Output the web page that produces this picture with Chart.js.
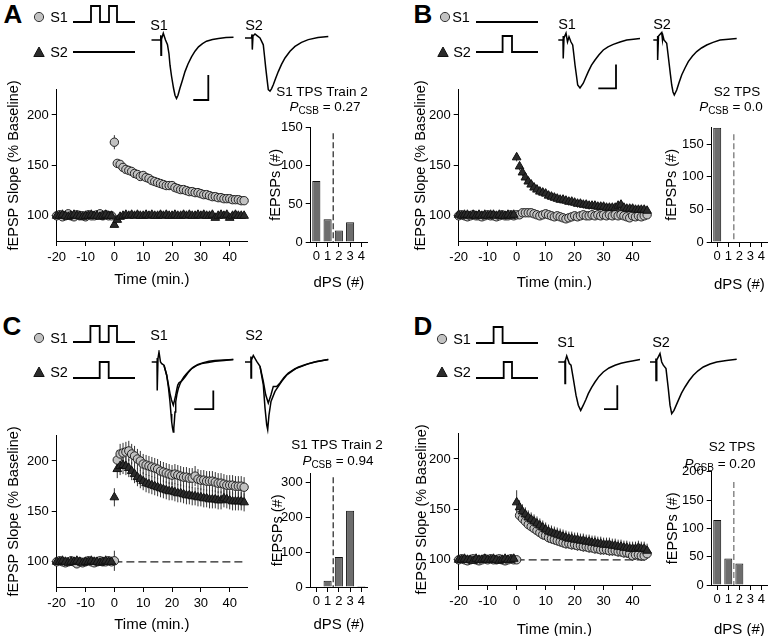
<!DOCTYPE html>
<html><head><meta charset="utf-8">
<script src="https://cdn.jsdelivr.net/npm/chart.js@4.4.1/dist/chart.umd.min.js"></script>
<style>
html,body{margin:0;padding:0;background:#fff;}
#fig{position:relative;width:775px;height:636px;overflow:hidden;background:#fff;font-family:"Liberation Sans",Arial,Helvetica,sans-serif;color:#000;}
#fig canvas{position:absolute;}
.t{position:absolute;white-space:nowrap;transform:translate(-50%,-50%);line-height:1;}
.let{font-weight:bold;font-size:26px;}
.lab{font-size:14.5px;}
.ttl{font-size:13.5px;}
.ttl sub{font-size:10px;vertical-align:-3px;}
svg.sym{position:absolute;overflow:visible;}
</style></head><body><div id="fig"></div>
<script>
// ---------------- DATA ----------------
const time = [-20,-19,-18,-17,-16,-15,-14,-13,-12,-11,-10,-9,-8,-7,-6,-5,-4,-3,-2,-1,
  0,1,2,3,4,5,6,7,8,9,10,11,12,13,14,15,16,17,18,19,20,21,22,23,24,25,26,27,28,29,30,
  31,32,33,34,35,36,37,38,39,40,41,42,43,44,45];
const xTicksMain = [-20,-10,0,10,20,30,40];
const yTicksMain = [100,150,200];

// Panel A
const A_S1 = [100,101,99,100,102,100,99,101,100,100,99,101,100,100,101,102,100,101,100,100,
  173,152,151,148,146,145,144,142,141,139,140,138,137,135,134,133,132,131,130,130,
  130,128,127,126,126,125,124,124,123,123,122,121,121,120,119,119,118,118,117,117,
  117,116,116,116,115,115];
const A_S2 = [100,100,101,100,99,100,101,100,100,99,100,100,101,100,100,99,100,101,100,100,
  91,96,99,100,101,100,101,100,101,100,100,101,100,101,100,100,101,100,101,100,
  100,101,100,100,101,100,101,100,100,101,100,101,100,100,101,98,100,101,100,101,
  98,100,101,100,100,100];
const errA1 = [2,2,2,2,2,2,2,2,2,2,2,2,2,2,2,2,2,2,2,2,
  7,3,3,3,3,3,3,3,3,3,3,3,3,3,3,3,3,3,3,3,3,3,3,3,3,3,3,3,3,3,3,3,3,3,3,3,3,3,3,3,3,3,3,3,3,3];
const errA2 = [2,2,2,2,2,2,2,2,2,2,2,2,2,2,2,2,2,2,2,2,
  2,2,2,2,2,2,2,2,2,2,2,2,2,2,2,2,2,2,2,2,2,2,2,2,2,2,2,2,2,2,2,2,2,2,2,2,2,2,2,2,2,2,2,2,2,2];
// Panel B
const B_S1 = [100,101,100,99,100,101,100,100,99,100,101,100,100,99,100,101,100,100,101,100,
  101,101,103,103,103,103,102,101,100,101,102,101,100,99,100,99,98,97,98,99,
  100,99,100,101,100,100,101,100,101,100,101,100,101,100,101,100,101,100,99,98,
  100,99,100,99,100,101];
const B_S2 = [101,100,101,101,100,101,100,101,100,101,100,101,101,100,101,100,100,101,100,101,
  158,149,143,138,134,131,128,126,124,123,122,120,119,118,117,116,116,115,114,114,
  113,112,112,111,111,110,110,110,109,109,109,108,108,108,108,110,111,108,107,107,
  107,106,106,106,106,105];
const errB1 = [2,2,2,2,2,2,2,2,2,2,2,2,2,2,2,2,2,2,2,2,
  3,3,3,3,3,3,3,3,3,3,3,3,3,3,3,3,3,3,3,3,3,3,3,3,3,3,3,3,3,3,3,3,3,3,3,3,3,3,3,3,3,3,3,3,3,3];
const errB2 = [2,2,2,2,2,2,2,2,2,2,2,2,2,2,2,2,2,2,2,2,
  4,4,4,4,4,4,4,4,4,4,4,4,4,4,4,4,4,4,4,4,4,4,4,4,4,4,4,4,4,4,4,4,4,4,4,4,4,4,4,4,4,4,4,4,4,4];
// Panel C
const C_S1 = [100,101,100,99,100,101,100,98,100,99,100,101,100,99,100,101,100,100,101,100,
  101,201,207,208,209,210,207,205,202,200,197,196,195,194,193,192,190,189,188,187,
  186,187,186,185,184,184,183,183,185,182,181,181,180,180,180,179,178,178,177,176,
  176,176,175,175,175,174];
const C_S2 = [100,100,101,100,99,100,100,101,100,99,100,100,101,100,100,99,100,101,100,100,
  164,192,195,196,195,193,190,187,184,182,180,178,177,176,175,174,173,172,171,170,
  170,169,168,168,167,166,166,165,165,164,164,163,163,162,162,162,161,161,163,162,
  161,160,160,160,160,159];
const errC1 = [2,2,2,2,2,2,2,2,2,2,2,2,2,2,2,2,2,2,2,2,
  10,10,10,10,10,10,10,10,10,10,10,10,10,10,10,10,10,10,10,10,10,10,10,10,10,10,10,10,10,10,10,10,10,10,10,10,10,10,10,10,10,10,10,10,10,10];
const errC2 = [2,2,2,2,2,2,2,2,2,2,2,2,2,2,2,2,2,2,2,2,
  9,9,9,9,9,9,9,9,9,9,9,9,9,9,9,9,9,9,9,9,9,9,9,9,9,9,9,9,9,9,9,9,9,9,9,9,9,9,9,9,9,9,9,9,9,9];
// Panel D
const D_S1 = [100,101,100,99,100,101,100,99,100,101,100,101,100,100,101,100,99,100,101,100,
  100,144,141,138,135,133,131,129,127,125,124,122,121,120,119,118,117,116,116,115,
  115,114,114,113,113,112,112,111,111,110,110,110,109,109,109,108,108,107,107,106,
  104,105,105,104,104,106];
const D_S2 = [100,100,101,100,100,99,101,100,100,101,100,100,101,100,99,100,101,100,100,101,
  157,152,148,145,142,140,138,136,134,132,130,128,127,126,125,124,123,122,121,121,
  120,120,119,119,118,118,117,117,116,116,115,115,115,114,114,113,113,112,112,111,
  111,111,112,111,111,109];
const errD1 = [2,2,2,2,2,2,2,2,2,2,2,2,2,2,2,2,2,2,2,2,
  2,5,5,5,5,5,5,5,5,5,5,5,5,5,5,5,5,5,5,5,5,5,5,5,5,5,5,5,5,5,5,5,5,5,5,5,5,5,5,5,5,5,5,5,5,5];
const errD2 = [2,2,2,2,2,2,2,2,2,2,2,2,2,2,2,2,2,2,2,2,
  12,7,7,7,7,7,7,7,7,7,7,7,7,7,7,7,7,7,7,7,7,7,7,7,7,7,7,7,7,7,7,7,7,7,7,7,7,7,7,7,7,7,7,7,7,7];
const refLine = [[0,100],[45,100]];

// Histograms (dPS counts)
const dpsLabels = ['0','1','2','3','4'];
const histA = [80,30,15,26,0];
const histB = [175,0,0,0,0];
const histC = [0,18,86,219,3];
const histD = [115,47,38,0,0];
const histTicksA = [0,50,100,150], histTicksB = [0,50,100,150];
const histTicksC = [0,100,200,300], histTicksD = [0,50,100,150,200];
const dpsThreshold = 1.5;

// Traces [ms, mV]
const traceA_S1 = [[0.3,0],[2.1,0],[2.15,0.12],[2.2,-0.38],[2.3,0.02],[2.66,0.17],[3.1,0.0],[3.5,-0.12],[3.8,-0.35],[4.0,-0.63],[4.3,-0.9],[4.7,-1.2],[5.0,-1.38],[5.3,-1.46],[5.6,-1.38],[6.0,-1.2],[6.5,-1.0],[7.0,-0.79],[7.6,-0.6],[8.3,-0.42],[9.0,-0.28],[9.7,-0.17],[10.5,-0.09],[11.3,-0.03],[12.5,0.01],[13.7,0.04],[15.2,0.06],[16.7,0.07]];
const traceA_S2 = [[0.2,0],[1.5,0],[1.6,0.09],[1.66,-0.29],[1.8,0.05],[2.2,0.1],[2.6,0.06],[3.2,0],[3.86,-0.17],[4.1,-0.45],[4.34,-0.74],[4.6,-1.02],[4.86,-1.29],[5.2,-1.33],[5.5,-1.27],[5.86,-1.17],[6.3,-1.02],[6.86,-0.84],[7.5,-0.66],[8.2,-0.5],[9.2,-0.33],[10.2,-0.21],[11.5,-0.11],[12.86,-0.04],[14.8,0.01],[16.86,0.04]];
const traceB_S1 = [[0.26,0],[1.2,0],[1.23,0.1],[1.26,-0.46],[1.4,0.05],[1.8,0.17],[2.1,-0.05],[2.4,0.08],[2.8,-0.05],[3.14,-0.125],[3.4,-0.4],[3.6,-0.625],[3.9,-0.9],[4.14,-1.125],[4.6,-1.2],[5.26,-1.08],[5.7,-0.95],[6.26,-0.79],[6.9,-0.63],[7.6,-0.5],[8.4,-0.37],[9.26,-0.25],[10.2,-0.17],[11.26,-0.11],[12.6,-0.05],[13.94,0],[15.3,0.02],[16.6,0.04]];
const traceB_S2 = [[0.26,0],[1.1,0],[1.12,0.1],[1.14,-0.5],[1.3,0.1],[1.94,0.19],[2.1,0],[2.2,0.1],[2.4,0],[2.94,-0.08],[3.2,-0.35],[3.46,-0.625],[3.7,-0.88],[3.94,-1.125],[4.2,-1.3],[4.46,-1.375],[4.94,-1.25],[5.4,-1.07],[5.94,-0.875],[6.6,-0.7],[7.26,-0.54],[8.1,-0.4],[8.94,-0.29],[9.9,-0.2],[10.94,-0.125],[12.2,-0.06],[13.6,0],[15.3,0.02],[16.94,0.04]];
const traceC_S1_pre = [[0.34,0],[1.4,0],[1.43,0.1],[1.46,-0.71],[1.6,0.09],[1.8,0.25],[2.1,0],[2.34,-0.04],[2.8,-0.08],[3.34,-0.33],[3.7,-0.58],[4.0,-0.79],[4.3,-0.95],[4.66,-1.08],[4.9,-0.96],[5.14,-0.83],[5.34,-0.7],[5.54,-0.58],[5.8,-0.52],[6.0,-0.5],[6.4,-0.47],[7.0,-0.375],[7.6,-0.27],[8.34,-0.165],[9.3,-0.09],[10.34,-0.04],[11.6,-0.01],[13,0.02],[14.8,0.04],[16.66,0.06]];
const traceC_S1_post = [[2.8,-0.08],[3.34,-0.33],[3.7,-0.65],[4.0,-1.0],[4.2,-1.3],[4.34,-1.5],[4.5,-1.65],[4.66,-1.75],[4.76,-1.65],[4.86,-1.5],[5.0,-1.25],[5.14,-1.0],[5.4,-0.8],[5.66,-0.665],[6.0,-0.55],[6.34,-0.46],[6.8,-0.37],[7.34,-0.29],[8.0,-0.2],[8.66,-0.125],[9.6,-0.06],[10.66,-0.015],[11.8,0.02],[13,0.035],[14.8,0.05],[16.66,0.06]];
const traceC_S2_pre = [[0.2,0],[1.36,0],[1.38,0.14],[1.4,-0.4],[1.5,0.05],[1.86,0.165],[2.54,0.015],[3.2,-0.11],[3.86,-0.485],[4.34,-0.82],[4.86,-1.025],[5.4,-0.82],[5.86,-0.61],[6.54,-0.61],[7.2,-0.525],[8.0,-0.39],[8.86,-0.275],[10.2,-0.17],[11.54,-0.11],[12.9,-0.04],[14.2,0],[16.86,0.06]];
const traceC_S2_post = [[3.2,-0.11],[3.86,-0.57],[4.2,-1.15],[4.54,-1.57],[4.74,-1.69],[5.0,-1.32],[5.4,-0.985],[6.2,-0.735],[7.54,-0.485],[8.5,-0.33],[9.54,-0.235],[10.8,-0.13],[12.2,-0.07],[14.5,0.01],[16.86,0.06]];
const traceD_S1 = [[0.26,0],[1.56,0],[1.58,0.04],[1.6,-0.54],[1.7,0.05],[1.94,0.15],[2.46,-0.04],[2.8,-0.08],[3.26,-0.415],[3.8,-0.83],[4.26,-1.08],[4.74,-1.21],[5.26,-1.08],[5.8,-0.93],[6.26,-0.79],[6.9,-0.64],[7.6,-0.5],[8.4,-0.36],[9.26,-0.25],[10.4,-0.15],[11.6,-0.08],[12.8,-0.03],[13.94,0],[15.3,0.03],[16.6,0.06]];
const traceD_S2 = [[0.2,0],[1.36,0],[1.38,0.09],[1.4,-0.46],[1.55,0.05],[2.2,0.21],[2.54,0],[2.86,-0.08],[3.4,-0.165],[3.86,-0.665],[4.2,-1.08],[4.54,-1.29],[5.0,-1.21],[5.86,-0.96],[6.5,-0.78],[7.2,-0.625],[8.0,-0.47],[8.86,-0.33],[9.8,-0.22],[10.86,-0.125],[12.2,-0.05],[13.54,0],[15.5,0.04],[17.54,0.07]];
const scaleBarA = [[8.66,-1.5],[11.66,-1.5],[11.66,-0.875]];
const scaleBarB = [[8.26,-1.21],[11.8,-1.21],[11.8,-0.61]];
const scaleBarC = [[8.86,-1.18],[12.66,-1.18],[12.66,-0.71]];
const scaleBarD = [[9.4,-1.18],[12.06,-1.18],[12.06,-0.58]];

// Stimulation protocols: pulse [on, off] times, line length
const protoLen = 62;
const protoA_S1 = [[18,27],[36,44]], protoA_S2 = [];
const protoB_S1 = [], protoB_S2 = [[26.6,36]];
const protoC_S1 = [[17.4,26.7],[35.7,44]], protoC_S2 = [[26.7,35.7]];
const protoD_S1 = [[17.6,26.6]], protoD_S2 = [[27.7,36]];

// ---------------- RENDER ----------------
Chart.defaults.font.family = '"Liberation Sans", Arial, Helvetica, sans-serif';
Chart.defaults.font.size = 13;
Chart.defaults.color = '#000';
Chart.defaults.animation = false;
Chart.defaults.events = [];
Chart.defaults.plugins.legend.display = false;
Chart.defaults.plugins.tooltip.enabled = false;

const fig = document.getElementById('fig');
function mkCanvas(l,t,w,h){
  const c=document.createElement('canvas');
  l=Math.round(l);t=Math.round(t);w=Math.round(w);h=Math.round(h);
  c.width=w;c.height=h;c.style.left=l+'px';c.style.top=t+'px';c.style.width=w+'px';c.style.height=h+'px';
  fig.appendChild(c);return c;
}
function txt(html,x,y,cls){const d=document.createElement('div');d.className='t '+(cls||'');d.innerHTML=html;d.style.left=x+'px';d.style.top=y+'px';fig.appendChild(d);return d;}
function pts(ys){return time.map((t,i)=>({x:t,y:ys[i]}));}
function xy(arr){return arr.map(([x,y])=>({x,y}));}

const errorBarPlugin = {id:'errbars',beforeDatasetsDraw(chart){
  const {ctx,scales:{x,y}}=chart;
  chart.data.datasets.forEach(ds=>{
    if(!ds.errors)return;
    ctx.save();ctx.strokeStyle='#333';ctx.lineWidth=1;
    ds.data.forEach((p,i)=>{const e=ds.errors[i];if(!e)return;const px=x.getPixelForValue(p.x);
      ctx.beginPath();ctx.moveTo(px,y.getPixelForValue(p.y-e));ctx.lineTo(px,y.getPixelForValue(p.y+e));ctx.stroke();});
    ctx.restore();
  });
}};
const threshPlugin = {id:'thresh',afterDatasetsDraw(chart,args,o){
  const {ctx,scales:{x,y}}=chart;const px=x.getPixelForValue(o.value);
  ctx.save();ctx.strokeStyle=o.color;ctx.lineWidth=1.3;ctx.setLineDash([6,3]);
  ctx.beginPath();ctx.moveTo(px,y.getPixelForValue(o.top));ctx.lineTo(px,y.getPixelForValue(0));ctx.stroke();ctx.restore();
}};

function axisBase(){return {border:{display:true,color:'#000',width:1},
  grid:{display:true,drawOnChartArea:false,drawTicks:true,tickLength:5,color:'#000',lineWidth:1,offset:false}};}

function mainChart(p){
  const a=p.area,padT=10,padR=6,yF=14.5;
  const left=p.yTitleX-(4+yF*1.2/2);
  const yW=a.l-left, top=a.t-padT;
  const c=mkCanvas(left,top,a.r-left+padR,a.b+p.xH-top);
  const ds=[
    {data:pts(p.s2),errors:p.e2,pointStyle:'triangle',pointRadius:5,backgroundColor:'#2b2b2b',borderColor:'#111',borderWidth:1,clip:false},
    {data:pts(p.s1),errors:p.e1,pointStyle:'circle',pointRadius:4.2,backgroundColor:'#c2c2c2',borderColor:'#222',borderWidth:1,clip:false}
  ];
  if(p.ref)ds.push({data:xy(p.ref),showLine:true,pointRadius:0,borderColor:'#222',borderWidth:1.2,borderDash:[8,4]});
  new Chart(c,{type:'scatter',data:{datasets:ds},plugins:[errorBarPlugin],
    options:{responsive:false,maintainAspectRatio:false,layout:{padding:{left:0,top:padT,right:padR,bottom:0}},
      scales:{
        x:{...axisBase(),type:'linear',min:-20,max:46,
          afterBuildTicks:s=>{s.ticks=xTicksMain.map(v=>({value:v}));},
          afterFit:s=>{s.height=p.xH;},
          ticks:{font:{size:13},padding:4,maxRotation:0,autoSkip:false},
          title:{display:true,text:'Time (min.)',font:{size:15},padding:{top:4,bottom:4}}},
        y:{...axisBase(),type:'linear',min:75,max:225,
          afterBuildTicks:s=>{s.ticks=yTicksMain.map(v=>({value:v}));},
          afterFit:s=>{s.width=yW;},
          ticks:{font:{size:13},padding:3},
          title:{display:true,text:'fEPSP Slope (% Baseline)',font:{size:yF},padding:{top:4,bottom:4}}}
      }}});
}

function histChart(p){
  const a=p.area,padT=10,padR=6,yF=14.5;
  const left=p.yTitleX-(4+yF*1.2/2);
  const yW=a.l-left, top=a.t-padT;
  const c=mkCanvas(left,top,a.r-left+padR,a.b+p.xH-top);
  new Chart(c,{type:'bar',data:{labels:dpsLabels,datasets:[{data:p.data,backgroundColor:'#6d6d6d',borderColor:'#111',borderWidth:1,barPercentage:0.72,categoryPercentage:1}]},
    plugins:[threshPlugin],
    options:{responsive:false,maintainAspectRatio:false,layout:{padding:{left:0,top:padT,right:padR,bottom:0}},
      plugins:{thresh:{value:dpsThreshold,top:p.dashTop,color:p.dashColor}},
      scales:{
        x:{...axisBase(),offset:true,afterFit:s=>{s.height=p.xH;},
          ticks:{font:{size:13},padding:2,maxRotation:0,autoSkip:false},
          title:{display:true,text:'dPS (#)',font:{size:15},padding:{top:4,bottom:4}}},
        y:{...axisBase(),type:'linear',min:0,max:p.max,
          afterBuildTicks:s=>{s.ticks=p.ticks.map(v=>({value:v}));},
          afterFit:s=>{s.width=yW;},
          ticks:{font:{size:13},padding:3},
          title:{display:true,text:'fEPSPs (#)',font:{size:yF},padding:{top:4,bottom:4}}}
      }}});
}

function traceChart(x0,base,lines,bar){
  const c=mkCanvas(x0,base-12,90,92);
  const ds=lines.map(l=>({data:xy(l),showLine:true,pointRadius:0,borderColor:'#000',borderWidth:1.5,tension:0,clip:false}));
  if(bar)ds.push({data:xy(bar),showLine:true,pointRadius:0,borderColor:'#000',borderWidth:1.8,tension:0,clip:false});
  new Chart(c,{type:'scatter',data:{datasets:ds},options:{responsive:false,maintainAspectRatio:false,layout:{padding:0},
    scales:{x:{display:false,min:0,max:18},y:{display:false,min:-2.0,max:0.3}}}});
}

function protoChart(x0,lowY,pulses){
  const hi=16,pad=3;
  const c=mkCanvas(x0-pad,lowY-hi-pad,protoLen+2*pad,hi+2*pad);
  const d=[{x:0,y:0}];
  pulses.forEach(([on,off])=>{d.push({x:on,y:0},{x:on,y:1},{x:off,y:1},{x:off,y:0});});
  d.push({x:protoLen,y:0});
  new Chart(c,{type:'scatter',data:{datasets:[{data:d,showLine:true,pointRadius:0,borderColor:'#000',borderWidth:1.8,tension:0,clip:false}]},
    options:{responsive:false,maintainAspectRatio:false,layout:{padding:pad},
      scales:{x:{display:false,min:0,max:protoLen},y:{display:false,min:0,max:1}}}});
}

function symbol(kind,x,y){
  const s=document.createElementNS('http://www.w3.org/2000/svg','svg');
  s.setAttribute('class','sym');s.setAttribute('width','12');s.setAttribute('height','12');
  s.style.left=(x-6)+'px';s.style.top=(y-6)+'px';
  s.innerHTML = kind==='c' ? '<circle cx="6" cy="6" r="4.6" fill="#c2c2c2" stroke="#333" stroke-width="1"/>'
                           : '<polygon points="6,1 11.2,10.5 0.8,10.5" fill="#2b2b2b" stroke="#111" stroke-width="1"/>';
  fig.appendChild(s);
}

// Main time-course charts
mainChart({area:{l:57,t:89,r:247,b:241},yTitleX:14,xH:52,s1:A_S1,s2:A_S2,e1:errA1,e2:errA2});
mainChart({area:{l:459,t:89,r:650,b:241},yTitleX:421,xH:55,s1:B_S1,s2:B_S2,e1:errB1,e2:errB2});
mainChart({area:{l:57,t:435,r:247,b:587},yTitleX:14,xH:51,s1:C_S1,s2:C_S2,e1:errC1,e2:errC2,ref:refLine});
mainChart({area:{l:459,t:433,r:650,b:585},yTitleX:422,xH:58,s1:D_S1,s2:D_S2,e1:errD1,e2:errD2,ref:refLine});

// Histograms
histChart({area:{l:311,t:127,r:367,b:242},yTitleX:276,xH:54,data:histA,max:150,ticks:histTicksA,dashTop:143,dashColor:'#333'});
histChart({area:{l:712,t:127,r:767,b:242},yTitleX:672,xH:56,data:histB,max:175,ticks:histTicksB,dashTop:165,dashColor:'#777'});
histChart({area:{l:311,t:473,r:367,b:587},yTitleX:278,xH:51,data:histC,max:325,ticks:histTicksC,dashTop:315,dashColor:'#333'});
histChart({area:{l:712,t:471,r:767,b:585},yTitleX:673,xH:58,data:histD,max:200,ticks:histTicksD,dashTop:182,dashColor:'#777'});

// Traces
traceChart(150,40,[traceA_S1],scaleBarA);
traceChart(244,38.3,[traceA_S2]);
traceChart(557,40,[traceB_S1],scaleBarB);
traceChart(652,40,[traceB_S2]);
traceChart(150,361.7,[traceC_S1_pre,traceC_S1_post],scaleBarC);
traceChart(244,362.3,[traceC_S2_pre,traceC_S2_post]);
traceChart(557,361.7,[traceD_S1],scaleBarD);
traceChart(649,361.7,[traceD_S2]);

// Protocols
protoChart(73,22,protoA_S1); protoChart(73,52,protoA_S2);
protoChart(476,22,protoB_S1); protoChart(476,52,protoB_S2);
protoChart(73,342,protoC_S1); protoChart(73,378,protoC_S2);
protoChart(476,343,protoD_S1); protoChart(476,378,protoD_S2);

// Text
[['A',13,14],['B',423,14],['C',12,326],['D',423,326]].forEach(([s,x,y])=>txt(s,x,y,'let'));
[[39,17,'c',59,'S1'],[39,52,'t',59,'S2'],[445,17,'c',461,'S1'],[443,52,'t',462,'S2'],
 [39,338,'c',59,'S1'],[39,372,'t',59,'S2'],[442,339,'c',462,'S1'],[442,372,'t',462,'S2']]
 .forEach(([sx,sy,k,tx,s])=>{symbol(k,sx,sy);txt(s,tx,sy,'lab');});
[['S1',159,25],['S2',254,25],['S1',567,24],['S2',662,24],['S1',159,335],['S2',254,335],['S1',566,342],['S2',661,342]]
 .forEach(([s,x,y])=>txt(s,x,y,'lab'));
txt('S1 TPS Train 2',322,92,'ttl'); txt('<i>P</i><sub>CSB</sub> = 0.27',325,108,'ttl');
txt('S2 TPS',737,92,'ttl'); txt('<i>P</i><sub>CSB</sub> = 0.0',731,108,'ttl');
txt('S1 TPS Train 2',337,445,'ttl'); txt('<i>P</i><sub>CSB</sub> = 0.94',338,462,'ttl');
txt('S2 TPS',732,447,'ttl'); txt('<i>P</i><sub>CSB</sub> = 0.20',720,465,'ttl');
</script></body></html>
